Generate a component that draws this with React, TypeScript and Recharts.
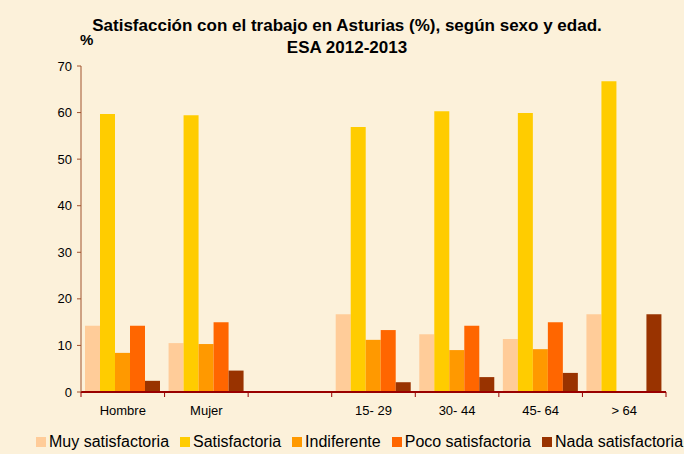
import React from "react";
import { BarChart, Bar, XAxis, YAxis, Legend } from "recharts";

const categories = ["Hombre", "Mujer", "", "15- 29", "30- 44", "45- 64", "> 64"];
const seriesNames = ["Muy satisfactoria", "Satisfactoria", "Indiferente", "Poco satisfactoria", "Nada satisfactoria"];
const seriesColors = ["#FFCC99", "#FFCC00", "#FF9900", "#FF6600", "#993300"];
const muySatisfactoria = [14.2, 10.5, null, 16.7, 12.4, 11.4, 16.7];
const satisfactoria = [59.7, 59.4, null, 56.9, 60.3, 59.9, 66.7];
const indiferente = [8.4, 10.3, null, 11.2, 9.0, 9.2, null];
const pocoSatisfactoria = [14.2, 15.0, null, 13.3, 14.2, 15.0, null];
const nadaSatisfactoria = [2.4, 4.6, null, 2.1, 3.2, 4.1, 16.7];
const yTicks = [0, 10, 20, 30, 40, 50, 60, 70];

const seriesKeys = ["muy", "sat", "ind", "poco", "nada"];
const seriesValues = [muySatisfactoria, satisfactoria, indiferente, pocoSatisfactoria, nadaSatisfactoria];

const data = categories.map((c, i) => {
  const row: any = { name: c };
  seriesKeys.forEach((k, s) => {
    row[k] = seriesValues[s][i];
  });
  return row;
});

const FONT = "'Liberation Sans', Arial, sans-serif";
const AXIS = "#990000";
const HALF_BAND = 585 / 7 / 2;

const XTick = (props: any) => {
  const { x, y, payload, index } = props;
  const last = index === categories.length - 1;
  return (
    <g>
      <line x1={x - HALF_BAND} y1={y - 8} x2={x - HALF_BAND} y2={y - 3} stroke={AXIS} strokeWidth={1} />
      {last && (
        <line x1={x + HALF_BAND} y1={y - 8} x2={x + HALF_BAND} y2={y - 3} stroke={AXIS} strokeWidth={1} />
      )}
      <text x={x} y={y + 15} textAnchor="middle" fontSize={13} fill="#000" fontFamily={FONT}>
        {payload.value}
      </text>
    </g>
  );
};

const LegendContent = () => (
  <div style={{ display: "flex", alignItems: "center", fontFamily: FONT, fontSize: 16, color: "#000", whiteSpace: "nowrap" }}>
    {seriesNames.map((n, i) => (
      <div key={n} style={{ display: "flex", alignItems: "center", marginRight: 11 }}>
        <span style={{ display: "inline-block", width: 10, height: 10, background: seriesColors[i], marginRight: 3 }} />
        <span>{n}</span>
      </div>
    ))}
  </div>
);

export default function App() {
  return (
    <div style={{ position: "absolute", left: 0, top: 0, width: 684, height: 454, background: "#FCF1DA", fontFamily: FONT }}>
      <div style={{ position: "absolute", left: 0, width: 694, top: 15, textAlign: "center", fontWeight: "bold", fontSize: 17, lineHeight: "22px", color: "#000" }}>
        Satisfacción con el trabajo en Asturias (%), según sexo y edad.
        <br />
        ESA 2012-2013
      </div>
      <div style={{ position: "absolute", left: 80, top: 31, fontWeight: "bold", fontSize: 15, color: "#000" }}>%</div>
      <BarChart
        width={684}
        height={454}
        data={data}
        margin={{ top: 66, right: 18, left: 0, bottom: 1 }}
        barCategoryGap={4}
        barGap={0}
        style={{ position: "absolute", left: 0, top: 0 }}
      >
        <XAxis
          dataKey="name"
          axisLine={{ stroke: AXIS, strokeWidth: 2 }}
          tickLine={false}
          tick={<XTick />}
          height={41}
          interval={0}
        />
        <YAxis
          domain={[0, 70]}
          ticks={yTicks}
          width={81}
          axisLine={{ stroke: "#A0522D", strokeWidth: 1 }}
          tickLine={{ stroke: "#A0522D" }}
          tickSize={4}
          tickMargin={5}
          tick={{ fontSize: 13, fill: "#000", fontFamily: FONT }}
        />
        <Legend
          verticalAlign="bottom"
          content={<LegendContent />}
          wrapperStyle={{ left: 36, width: 648, height: 20 }}
        />
        {seriesKeys.map((k, i) => (
          <Bar key={k} dataKey={k} name={seriesNames[i]} fill={seriesColors[i]} isAnimationActive={false} />
        ))}
      </BarChart>
    </div>
  );
}
